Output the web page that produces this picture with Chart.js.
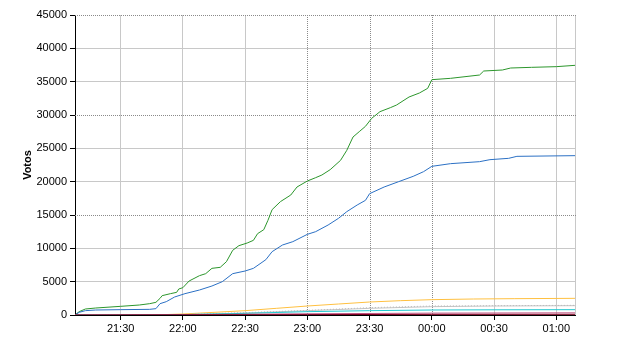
<!DOCTYPE html>
<html>
<head>
<meta charset="utf-8">
<script src="https://cdn.jsdelivr.net/npm/chart.js@4.4.1/dist/chart.umd.min.js"></script>
<style>
html,body{margin:0;padding:0;background:#fff;}
#wrap{width:640px;height:350px;}
</style>
</head>
<body>
<div id="wrap"><canvas id="c" width="640" height="350"></canvas></div>
<script>
// ---- data (times HH:MM, votes) ----
const tickLabels = ['21:30','22:00','22:30','23:00','23:30','00:00','00:30','01:00'];
const yTicks = [0,5000,10000,15000,20000,25000,30000,35000,40000,45000];
const axisStart = '21:08';
const axisEnd = '01:09';

const greenTimes = ['21:08','21:10','21:13','21:18','21:30','21:39','21:44','21:47','21:49','21:50','21:54','21:57','21:58','22:00','22:03','22:08','22:11','22:14','22:18','22:21','22:24','22:27','22:31','22:34','22:36','22:39','22:41','22:43','22:47','22:52','22:55','23:00','23:04','23:07','23:11','23:16','23:19','23:22','23:25','23:28','23:31','23:35','23:40','23:43','23:49','23:54','23:58','00:00','00:09','00:23','00:25','00:34','00:38','00:48','01:00','01:09'];
const greenVotes = [0,500,900,1050,1300,1500,1700,1900,2500,2900,3200,3400,3900,4100,5100,5900,6200,7000,7150,8000,9700,10400,10800,11200,12200,12800,14200,15800,17000,18000,19200,20100,20600,21000,21800,23200,24700,26700,27500,28300,29500,30500,31100,31500,32700,33300,34000,35300,35500,36000,36600,36750,37050,37150,37250,37450];

const blueTimes = ['21:08','21:10','21:13','21:18','21:30','21:44','21:47','21:49','21:52','21:56','22:01','22:08','22:14','22:19','22:24','22:30','22:34','22:40','22:43','22:48','22:53','23:00','23:04','23:10','23:15','23:19','23:24','23:28','23:30','23:37','23:44','23:51','23:56','00:00','00:09','00:23','00:28','00:37','00:41','01:09'];
const blueVotes = [0,400,650,750,800,850,950,1700,2000,2700,3200,3750,4350,5000,6200,6600,7000,8300,9500,10500,11000,12100,12500,13500,14500,15500,16500,17200,18200,19200,20000,20800,21500,22300,22700,23000,23300,23500,23800,23900];

const orangeTimes = ['21:08','21:40','21:50','22:00','22:15','22:30','22:45','23:00','23:15','23:30','23:45','00:00','00:20','00:40','01:09'];
const orangeVotes = [0,0,50,150,400,650,1000,1350,1650,1950,2150,2300,2400,2450,2500];

const greyTimes = ['21:08','22:00','22:30','23:00','23:30','00:00','00:30','01:09'];
const greyVotes = [0,50,300,650,1000,1250,1350,1400];
const greyDotVotes = [0,80,350,700,1100,1350,1400,1450];

const cyanTimes = ['21:08','21:50','22:00','22:30','23:00','23:30','00:00','00:30','01:09'];
const cyanVotes = [0,20,60,250,500,650,750,780,800];

const pinkTimes = ['21:08','22:00','23:00','00:00','01:09'];
const pinkVotes = [0,40,180,280,320];
const maroonVotes = [0,20,60,90,100];

// ---- helpers ----
function toMin(s){const [h,m]=s.split(':').map(Number);return (h<12?h+24:h)*60+m;}
function pts(times, vals){return times.map((t,i)=>({x:toMin(t),y:vals[i]}));}
const tickValues = tickLabels.map(toMin);
const dottedX = ['23:00','23:30','00:00'].map(toMin);
const dottedY = [15000,30000,45000];

function ds(data,color,extra){return Object.assign({data,borderColor:color,backgroundColor:color,borderWidth:1,pointRadius:0,tension:0,fill:false},extra||{});}

const overlay = {
  id:'overlay',
  beforeDatasetsDraw(chart){
    const {ctx,chartArea:a,scales:{x,y}}=chart;
    ctx.save();
    ctx.lineWidth=1;
    ctx.strokeStyle='#c8c8c8';
    ctx.beginPath();
    ctx.moveTo(Math.round(a.right)+0.5,a.top);ctx.lineTo(Math.round(a.right)+0.5,a.bottom);
    ctx.stroke();
    ctx.setLineDash([1,1]);
    ctx.strokeStyle='#8a8a8a';
    ctx.beginPath();
    dottedX.forEach(v=>{const px=Math.round(x.getPixelForValue(v))+0.5;ctx.moveTo(px,a.top);ctx.lineTo(px,a.bottom);});
    dottedY.forEach(v=>{const py=Math.round(y.getPixelForValue(v))+0.5;ctx.moveTo(a.left,py);ctx.lineTo(a.right+1,py);});
    ctx.stroke();
    ctx.restore();
  }
};

Chart.defaults.font.family = "'Liberation Sans', Arial, sans-serif";
Chart.defaults.font.size = 11;
Chart.defaults.color = '#000';

new Chart(document.getElementById('c'),{
  type:'line',
  data:{datasets:[
    ds(pts(pinkTimes,maroonVotes),'#7a0020'),
    ds(pts(pinkTimes,pinkVotes),'#c05080'),
    ds(pts(cyanTimes,cyanVotes),'#20c8d0'),
    ds(pts(greyTimes,greyDotVotes),'#b8b8b8',{borderDash:[1,2]}),
    ds(pts(greyTimes,greyVotes),'#c4c4c4'),
    ds(pts(orangeTimes,orangeVotes),'#ffc040'),
    ds(pts(blueTimes,blueVotes),'#2b70c4'),
    ds(pts(greenTimes,greenVotes),'#2c962c')
  ]},
  plugins:[overlay],
  options:{
    responsive:false,animation:false,
    layout:{padding:{left:0,top:15,right:65,bottom:0}},
    plugins:{legend:{display:false},tooltip:{enabled:false}},
    scales:{
      x:{type:'linear',min:toMin(axisStart),max:toMin(axisEnd),
        afterBuildTicks(s){s.ticks=tickValues.map(v=>({value:v}));},
        afterFit(s){s.height=35;},
        ticks:{autoSkip:false,maxRotation:0,padding:2,callback:(v)=>tickLabels[tickValues.indexOf(v)]},
        grid:{color:(c)=>(c.tick&&dottedX.includes(c.tick.value))?'rgba(0,0,0,0)':'#c8c8c8',tickColor:'#000',tickLength:5,lineWidth:1},
        border:{color:'#000',width:1}
      },
      y:{min:0,max:45000,
        afterBuildTicks(s){s.ticks=yTicks.map(v=>({value:v}));},
        afterFit(s){s.width=75;},
        ticks:{padding:3,callback:(v)=>String(v)},
        grid:{color:(c)=>(c.tick&&dottedY.includes(c.tick.value))?'rgba(0,0,0,0)':'#c8c8c8',tickColor:'#000',tickLength:5,lineWidth:1},
        border:{color:'#000',width:1},
        title:{display:true,text:'Votos',font:{weight:'bold',size:11},padding:{top:21,bottom:0}}
      }
    }
  }
});
</script>
</body>
</html>
